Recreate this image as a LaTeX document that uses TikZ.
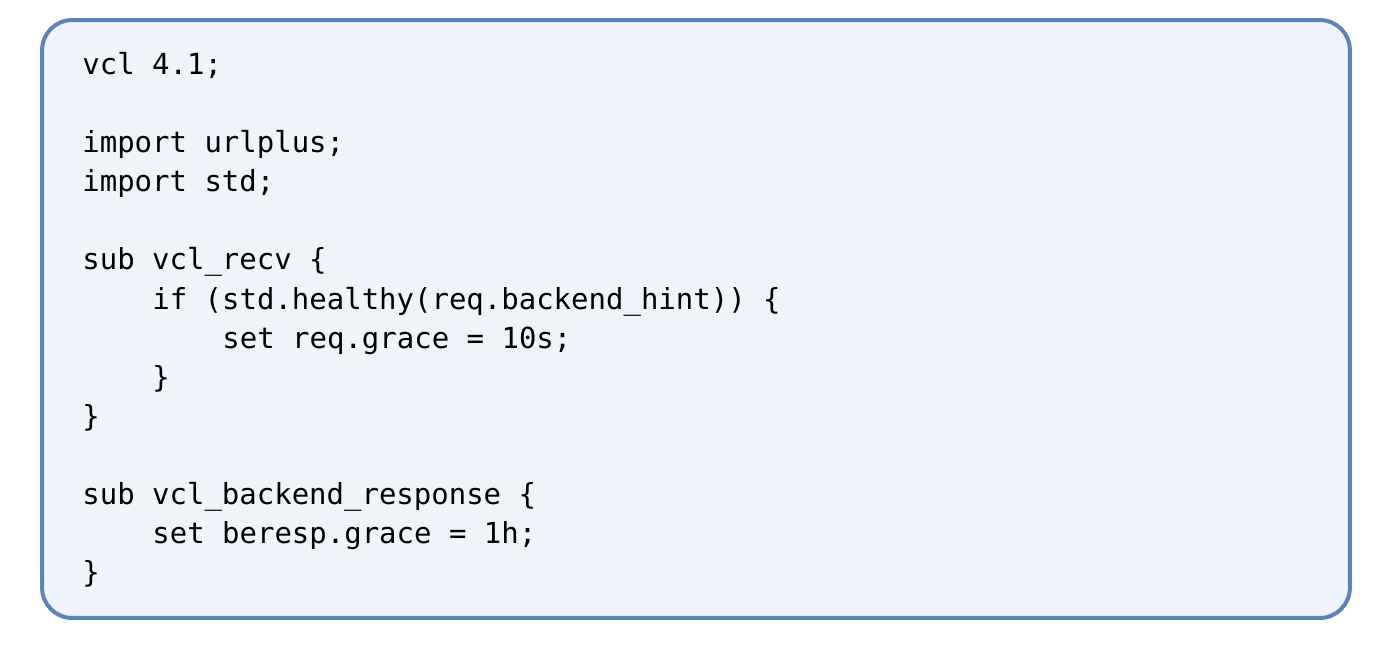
\documentclass[tikz,border=0pt]{standalone}
\usepackage{fontspec}
\setmonofont{DejaVu Sans Mono}
\usepackage{xcolor}
\usetikzlibrary{positioning}
\definecolor{boxfill}{HTML}{EFF4FB}
\definecolor{boxline}{HTML}{5B82BE}

\begin{document}
\begin{tikzpicture}[
    x=0.02cm, y=-0.02cm, % one unit is one pixel, y runs downwards
    codebox/.style={draw=boxline, fill=boxfill, line width=0.08cm,
        rounded corners=0.6cm, minimum width=26.16cm, minimum height=11.96cm},
    codeline/.style={anchor=base west, inner sep=0pt,
        font=\ttfamily\fontsize{16.5}{22}\selectfont}
]
\useasboundingbox (0,0) rectangle (1396,662);

% Frame
\node[codebox] (box) at (696,319) {};

% Code lines: row / indent / text
\foreach \row/\ind/\txt in {
    1/0/{vcl 4.1;},
    3/0/{import urlplus;},
    4/0/{import std;},
    6/0/{sub vcl\_recv \{},
    7/4/{if (std.healthy(req.backend\_hint)) \{},
    8/8/{set req.grace = 10s;},
    9/4/{\}},
    10/0/{\}},
    12/0/{sub vcl\_backend\_response \{},
    13/4/{set beresp.grace = 1h;},
    14/0/{\}}}
  \node[codeline] (line\row) at ({82+17.5*\ind},{75+39*(\row-1)}) {\txt};

\end{tikzpicture}
\end{document}
